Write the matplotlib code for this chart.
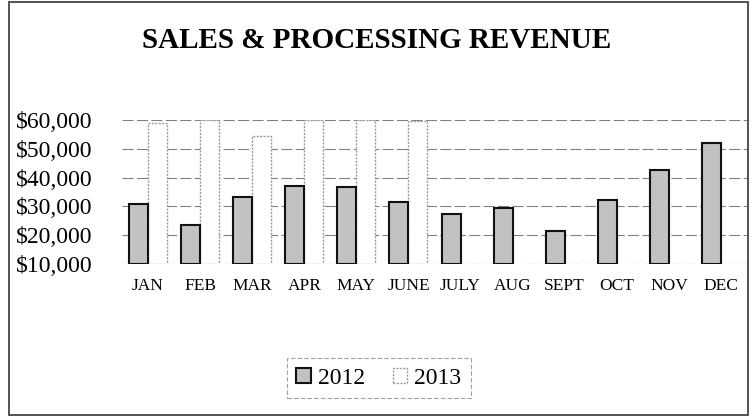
import numpy as np
import matplotlib
matplotlib.use("Agg")
import matplotlib.pyplot as plt
from matplotlib.patches import Rectangle

# values (2013 only reported through June)
months = ["JAN", "FEB", "MAR", "APR", "MAY", "JUNE", "JULY", "AUG", "SEPT", "OCT", "NOV", "DEC"]
sales_2012 = [30900, 23400, 33100, 37200, 36600, 31700, 27400, 29300, 21600, 32300, 42800, 51900]
sales_2013 = [58900, 60000, 54500, 60000, 60000, 59800]
y_ticks = [10000, 20000, 30000, 40000, 50000, 60000]
y_labels = ["$10,000", "$20,000", "$30,000", "$40,000", "$50,000", "$60,000"]

Y_MIN, Y_MAX = 10000, 60000
W, H = 755, 417

plt.rcParams['font.family'] = ['Liberation Serif', 'DejaVu Serif']

fig = plt.figure(figsize=(W / 100, H / 100), dpi=100)
ax = fig.add_axes([122 / W, 1 - 264 / H, 625 / W, 144 / H])

x = np.arange(len(months))
bw = 0.365
v12 = np.array(sales_2012)
v13 = np.array(sales_2013)
ax.bar(x - bw / 2, v12 - Y_MIN, bw, bottom=Y_MIN, color='#c2c2c2',
       edgecolor='#111111', linewidth=1.5, label='2012', zorder=3)
ax.bar(x[:len(v13)] + bw / 2, v13 - Y_MIN, bw, bottom=Y_MIN, color='white',
       edgecolor='#9a9a9a', linewidth=1.0, linestyle=(0, (1.5, 1)),
       label='2013', zorder=2)

ax.set_xlim(-0.5, len(months) - 0.5)
ax.set_ylim(Y_MIN, Y_MAX)
ax.set_yticks(y_ticks)
ax.set_yticklabels(y_labels, fontsize=17)
ax.set_xticks(x)
ax.set_xticklabels(months, fontsize=12.5)
ax.tick_params(axis='y', length=0, pad=21)
ax.tick_params(axis='x', length=0, pad=10)
ax.yaxis.grid(True, color='#808080', linestyle=(0, (10, 3)), linewidth=0.8, zorder=0)
ax.set_axisbelow(True)
for s in ax.spines.values():
    s.set_visible(False)

fig.text(377 / W, 1 - 48 / H, "SALES & PROCESSING REVENUE", ha='center', va='baseline',
         fontsize=21, fontweight='bold')

leg = fig.legend(loc='center', bbox_to_anchor=(379 / W, 1 - 378 / H), ncol=2,
                 fontsize=17, handlelength=0.6, handleheight=0.6, handletextpad=0.3,
                 columnspacing=1.2, fancybox=False, borderpad=0.4)
leg.get_frame().set_edgecolor('#888888')
leg.get_frame().set_linestyle((0, (4, 2)))
leg.get_frame().set_linewidth(0.8)

# outer frame of the scanned chart
fig.patches.append(Rectangle((9 / W, 2 / H), 739 / W, 413 / H, transform=fig.transFigure,
                             fill=False, edgecolor='#444444', linewidth=1.3))

fig.savefig("out.png", dpi=100)
